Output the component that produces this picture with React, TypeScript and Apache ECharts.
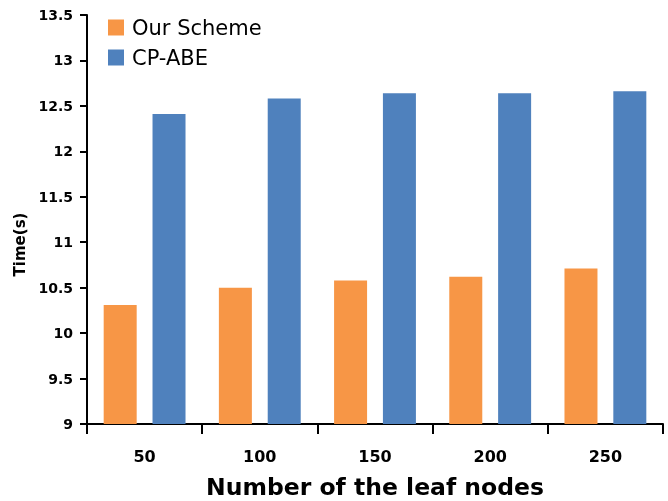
import React, { useEffect, useRef } from "react";
import * as echarts from "echarts";

const categories = ["50", "100", "150", "200", "250"];
const ourScheme = [10.31, 10.5, 10.58, 10.62, 10.71];
const cpAbe = [12.41, 12.58, 12.64, 12.64, 12.66];
const seriesNames = ["Our Scheme", "CP-ABE"];

export default function App() {
  const ref = useRef<HTMLDivElement>(null);
  useEffect(() => {
    if (!ref.current) return;
    const chart = echarts.init(ref.current, null, { renderer: "svg" });
    const font = "'DejaVu Sans', 'Open Sans', sans-serif";
    chart.setOption({
      animation: false,
      textStyle: { fontFamily: font },
      legend: {
        orient: "vertical",
        left: 103,
        top: 12,
        itemWidth: 16,
        itemHeight: 16,
        itemGap: 9,
        icon: "rect",
        textStyle: { fontSize: 21, color: "#000", fontFamily: font, padding: [0, 0, 0, 3] },
        data: seriesNames,
      },
      grid: { left: 87, right: 5, top: 15, bottom: 77, containLabel: false, outerBoundsMode: "none" },
      xAxis: {
        type: "category",
        data: categories,
        name: "Number of the leaf nodes",
        nameLocation: "middle",
        nameGap: 53,
        nameTextStyle: { fontSize: 23.5, lineHeight: 20, fontWeight: "bold", color: "#000", fontFamily: font },
        axisLine: { lineStyle: { color: "#000", width: 2 } },
        axisTick: { show: true, alignWithLabel: false, length: 10, lineStyle: { color: "#000", width: 2 } },
        axisLabel: { fontSize: 16, fontWeight: "bold", color: "#000", margin: 24, fontFamily: font },
        splitLine: { show: false },
      },
      yAxis: {
        type: "value",
        min: 9,
        max: 13.5,
        interval: 0.5,
        name: "Time(s)",
        nameLocation: "middle",
        nameGap: 56,
        nameRotate: 90,
        nameTextStyle: {
          fontSize: 15,
          fontWeight: "bold",
          color: "#000",
          fontFamily: font,
          padding: [0, 50, 0, 0],
        },
        axisLine: { show: true, lineStyle: { color: "#000", width: 2 } },
        axisTick: { show: true, length: 7, lineStyle: { color: "#000", width: 2 } },
        axisLabel: { fontSize: 14, fontWeight: "bold", color: "#000", margin: 14, fontFamily: font },
        splitLine: { show: false },
      },
      series: [
        {
          name: seriesNames[0],
          type: "bar",
          data: ourScheme,
          itemStyle: { color: "#F79646" },
          barWidth: 33,
          barGap: "48%",
        },
        {
          name: seriesNames[1],
          type: "bar",
          data: cpAbe,
          itemStyle: { color: "#4F81BD" },
          barWidth: 33,
          barGap: "48%",
        },
      ],
    });
    return () => chart.dispose();
  }, []);
  return (
    <div
      ref={ref}
      style={{ position: "fixed", left: 0, top: 0, width: 668, height: 501 }}
    />
  );
}
